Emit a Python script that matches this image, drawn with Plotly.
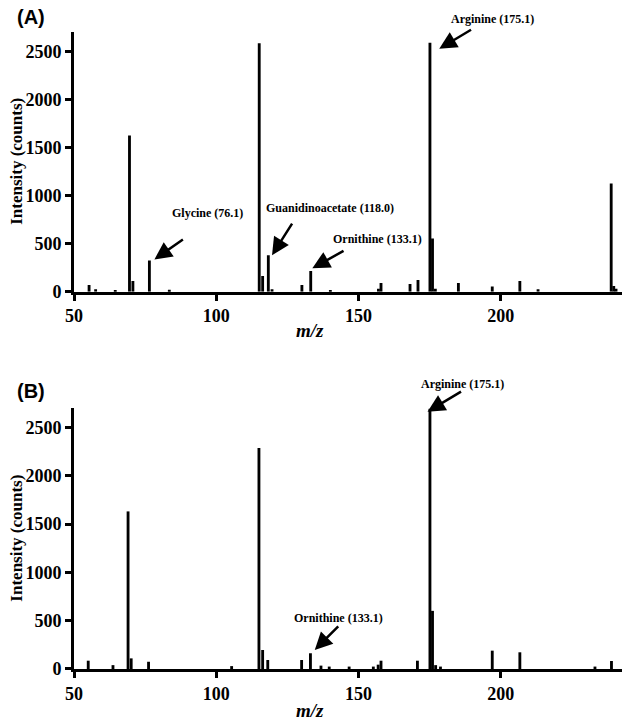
import plotly.graph_objects as go

# Panel A peaks (m/z, intensity)
mz_a = [55.3, 57.6, 64.5, 69.5, 70.7, 76.5, 83.5, 115.1, 116.3, 118.3, 119.6, 130.1, 133.2,
        140.1, 157.0, 157.9, 168.1, 170.9, 175.1, 176.0, 177.0, 185.1, 197.0, 206.7, 213.1,
        238.8, 239.7, 240.5]
int_a = [70, 25, 15, 1625, 110, 325, 20, 2583, 163, 380, 25, 70, 215,
         15, 30, 90, 80, 121, 2587, 554, 30, 90, 55, 110, 25,
         1124, 60, 30]

# Panel B peaks (m/z, intensity)
mz_b = [55.0, 63.7, 69.0, 70.1, 76.2, 105.4, 115.0, 116.3, 118.1, 130.0, 133.1, 136.8,
        139.7, 146.7, 155.2, 156.9, 157.9, 170.7, 175.1, 176.0, 177.1, 178.8, 197.0, 206.7,
        233.1, 238.9]
int_b = [86, 40, 1632, 110, 75, 30, 2289, 197, 93, 93, 163, 35,
         25, 25, 25, 45, 86, 86, 2695, 602, 40, 25, 190, 173,
         25, 83]

x_ticks = [50, 100, 150, 200]
y_ticks = [0, 500, 1000, 1500, 2000, 2500]

# labelled peaks: (label, peak m/z, peak intensity)
labels_a = [("Glycine (76.1)", 76.5, 325), ("Guanidinoacetate (118.0)", 118.3, 380),
            ("Ornithine (133.1)", 133.2, 215), ("Arginine (175.1)", 175.1, 2587)]
labels_b = [("Ornithine (133.1)", 133.1, 163), ("Arginine (175.1)", 175.1, 2695)]

# pixel offsets: head shift (dx, dy up+), tail (ax, ay), label shift (lx, ly), label anchor
geo_a = [(5, 1, 30, -21, 53, 46, "center"),
         (3.7, 0, 21, -33, -8, 47, "left"),
         (1.6, 2.7, 32.7, -18.3, 64.7, 29.3, "center"),
         (9.3, -6, 33.3, -20, 53, 30, "center")]
geo_b = [(4.3, 3.3, 25, -25, 24, 32.3, "center"),
         (-2.4, -3.0, 35, -21, 34.7, 27.7, "center")]

serif = "Liberation Serif"
fig = go.Figure()
fig.add_trace(go.Bar(x=mz_a, y=int_a, width=1.0, marker=dict(color="black", line=dict(width=0)),
                     xaxis="x", yaxis="y", showlegend=False))
fig.add_trace(go.Bar(x=mz_b, y=int_b, width=1.0, marker=dict(color="black", line=dict(width=0)),
                     xaxis="x2", yaxis="y2", showlegend=False))

axis_common = dict(showline=True, linecolor="black", linewidth=3, ticks="outside", ticklen=6,
                   tickwidth=3, tickcolor="black", showgrid=False, zeroline=False,
                   tickfont=dict(family=serif, size=18, color="black", weight="bold"))

fig.update_layout(
    width=625, height=722,
    margin=dict(l=74, r=3, t=32, b=53),
    paper_bgcolor="white", plot_bgcolor="white",
    xaxis=dict(domain=[0, 1], anchor="y", range=[50, 242.6], tickvals=x_ticks, **axis_common),
    yaxis=dict(domain=[0.5923, 1], anchor="x", range=[0, 2700], tickvals=y_ticks, **axis_common),
    xaxis2=dict(domain=[0, 1], anchor="y2", range=[50, 242.6], tickvals=x_ticks, **axis_common),
    yaxis2=dict(domain=[0, 0.4093], anchor="x2", range=[0, 2700], tickvals=y_ticks, **axis_common),
)

ann = []
for (labels, geo, xr, yr) in [(labels_a, geo_a, "x", "y"), (labels_b, geo_b, "x2", "y2")]:
    for (text, px, py), (dx, dy, ax, ay, lx, ly, anch) in zip(labels, geo):
        ann.append(dict(x=px, y=py, xref=xr, yref=yr, xshift=dx, yshift=dy, text="",
                        showarrow=True, arrowhead=2, arrowsize=1.4, arrowwidth=2.5,
                        arrowcolor="black", ax=ax, ay=ay, standoff=0))
        ann.append(dict(x=px, y=py, xref=xr, yref=yr, xshift=dx + lx, yshift=dy + ly,
                        text=text, showarrow=False, xanchor=anch, yanchor="middle",
                        font=dict(family=serif, size=12, color="black", weight="bold")))

# panel letters
for txt, yp in [("(A)", 1 + 15 / 637), ("(B)", 0.4093 + 17 / 637)]:
    ann.append(dict(x=-59 / 548, y=yp, xref="paper", yref="paper", text=txt, showarrow=False,
                    xanchor="left", yanchor="middle",
                    font=dict(family="Liberation Sans", size=20, color="black", weight="bold")))

# axis titles
for yc in [0.5923 + 0.4077 / 2, 0.4093 / 2]:
    ann.append(dict(x=-57 / 548, y=yc, xref="paper", yref="paper", text="Intensity (counts)",
                    textangle=-90, showarrow=False, xanchor="center", yanchor="middle",
                    font=dict(family=serif, size=17, color="black", weight="bold")))
for yp in [(669 - 330) / 637, (669 - 710) / 637]:
    ann.append(dict(x=(310 - 74) / 548, y=yp, xref="paper", yref="paper", text="m/z",
                    showarrow=False, xanchor="center", yanchor="middle",
                    font=dict(family=serif, size=19, color="black", weight="bold", style="italic")))

fig.update_layout(annotations=ann)
fig.write_html("out.html", config={"displayModeBar": False},
               post_script="document.body.style.margin='0';document.body.style.padding='0';")
